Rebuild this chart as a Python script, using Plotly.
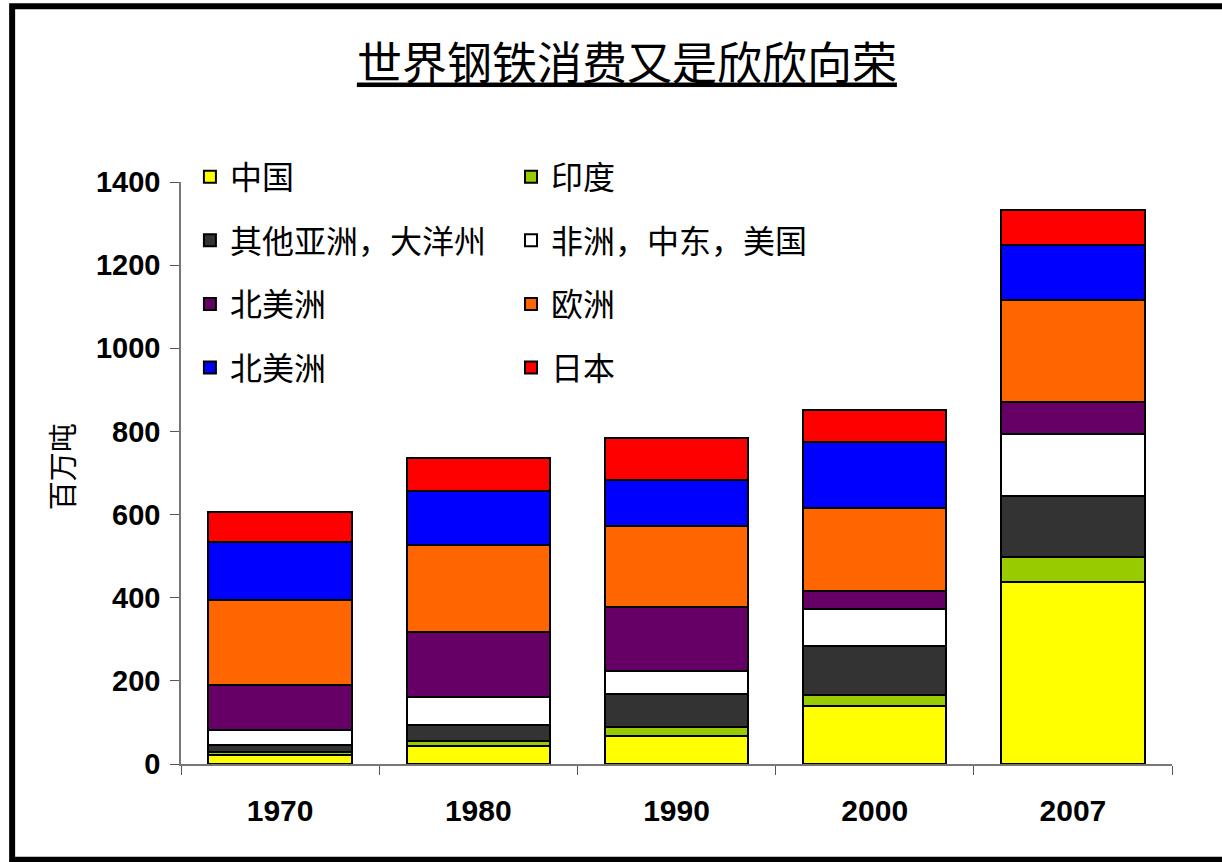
import plotly.graph_objects as go

years = ["1970", "1980", "1990", "2000", "2007"]
series_names = ["中国", "印度", "其他亚洲，大洋州", "非洲，中东，美国", "北美洲", "欧洲", "北美洲", "日本"]
china = [21, 44, 67, 140, 438]
india = [9, 12, 22, 26, 61]
other_asia = [15, 39, 79, 118, 145]
africa_me = [38, 66, 55, 89, 150]
north_america = [106, 156, 155, 44, 77]
europe = [205, 211, 194, 200, 244]
north_america2 = [139, 129, 112, 157, 134]
japan = [72, 79, 101, 78, 84]
colors = ["#FFFF00", "#99CC00", "#333333", "#FFFFFF", "#660066", "#FF6600", "#0000FF", "#FF0000"]
legend_ids = ["legend", "legend2", "legend", "legend2", "legend", "legend2", "legend", "legend2"]

all_values = [china, india, other_asia, africa_me, north_america, europe, north_america2, japan]

CJK = "Noto Sans CJK SC"
fig = go.Figure()
for i, (name, vals, col, lg) in enumerate(zip(series_names, all_values, colors, legend_ids)):
    fig.add_trace(go.Bar(
        x=years, y=vals, name=name,
        marker=dict(color=col, line=dict(color="#000000", width=2)),
        legend=lg, legendgroup="g%d" % i,
    ))

legend_common = dict(
    font=dict(family=CJK, size=32, color="#000000"),
    bgcolor="rgba(0,0,0,0)", traceorder="grouped", tracegroupgap=19,
    orientation="v", yanchor="top", xanchor="left",
)

fig.update_layout(
    width=1222, height=862,
    barmode="stack", bargap=0.277,
    paper_bgcolor="#FFFFFF", plot_bgcolor="#FFFFFF",
    margin=dict(l=181, r=49.5, t=181.7, b=97.7, autoexpand=False),
    title=dict(text="<u>世界钢铁消费又是欣欣向荣</u>", x=0.513, xanchor="center",
               y=0.926, yanchor="middle",
               font=dict(family=CJK, size=45, color="#000000")),
    legend=dict(x=0.009, y=1.056, **legend_common),
    legend2=dict(x=0.333, y=1.056, **legend_common),
    xaxis=dict(type="category", tickson="boundaries", ticks="outside", ticklen=9,
               tickcolor="#555555", showline=True, linecolor="#777777", linewidth=1.5,
               showgrid=False, ticklabelstandoff=19,
               tickfont=dict(family="Liberation Sans", size=30, color="#000000", weight="bold")),
    yaxis=dict(range=[0, 1400], dtick=200, ticks="outside", ticklen=9,
               tickcolor="#555555", showline=True, linecolor="#777777", linewidth=1.5,
               showgrid=False, zeroline=False, ticklabelstandoff=4,
               tickfont=dict(family="Liberation Sans", size=29, color="#000000", weight="bold")),
    annotations=[dict(text="百万吨", textangle=-90, xref="paper", yref="paper",
                      x=-0.121, y=0.51, xanchor="center", yanchor="middle", showarrow=False,
                      font=dict(family=CJK, size=29, color="#000000"))],
    shapes=[dict(type="rect", xref="paper", yref="paper",
                 x0=-0.1704, x1=1.06, y0=-0.1645, y1=1.302,
                 line=dict(color="#000000", width=6), layer="above")],
)

fig.write_html("out.html", config={"displayModeBar": False},
               post_script="document.body.style.margin='0';")
